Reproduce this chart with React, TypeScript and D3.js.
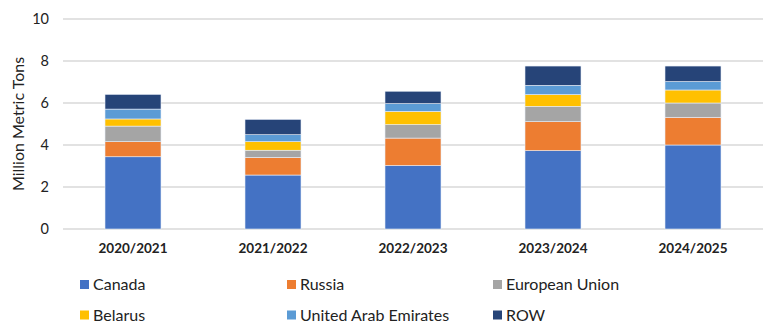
import React from "react";
import * as d3 from "d3";

const categories = ["2020/2021", "2021/2022", "2022/2023", "2023/2024", "2024/2025"];
const seriesNames = ["Canada", "Russia", "European Union", "Belarus", "United Arab Emirates", "ROW"];
const canada = [3.44, 2.57, 3.02, 3.73, 4.0];
const russia = [0.72, 0.84, 1.31, 1.38, 1.32];
const eu = [0.74, 0.34, 0.64, 0.73, 0.68];
const belarus = [0.34, 0.41, 0.63, 0.56, 0.62];
const uae = [0.47, 0.33, 0.37, 0.44, 0.4];
const row = [0.7, 0.73, 0.59, 0.92, 0.74];
const yTicks = [0, 2, 4, 6, 8, 10];
const colors = ["#4472C4", "#ED7D31", "#A5A5A5", "#FFC000", "#5B9BD5", "#264478"];

const W = 776;
const H = 332;
const FONT = "Lato, 'Open Sans', sans-serif";

export default function App() {
  const seriesValues = [canada, russia, eu, belarus, uae, row];
  const table = categories.map((c, i) => {
    const o: any = { cat: c };
    seriesNames.forEach((s, j) => (o[s] = seriesValues[j][i]));
    return o;
  });
  const stack = d3.stack<any>().keys(seriesNames)(table);

  const x = d3.scaleBand().domain(categories).range([63, 763]).paddingInner(0.6).paddingOuter(0.3);
  const y = d3.scaleLinear().domain([0, 10]).range([229, 19]);

  const legendPos = [
    [80, 284.5],
    [287, 284.5],
    [493, 284.5],
    [80, 315],
    [287, 315],
    [493, 315],
  ];

  return (
    <svg width={W} height={H} style={{ position: "absolute", left: 0, top: 0, background: "#fff" }} fontFamily={FONT}>
      {yTicks.map((t) => (
        <g key={t}>
          <line x1={63} x2={763} y1={y(t)} y2={y(t)} stroke="#D9D9D9" strokeWidth={1.3} />
          <text x={49} y={y(t)} dy="0.35em" textAnchor="end" fontSize={14.5} fill="#222">
            {t}
          </text>
        </g>
      ))}
      <text transform={`translate(18,${y(5)}) rotate(-90)`} textAnchor="middle" dy="0.35em" fontSize={16} fill="#222">
        Million Metric Tons
      </text>
      {stack.map((s, j) => (
        <g key={s.key} fill={colors[j]}>
          {s.map((d, i) => (
            <rect
              key={i}
              x={x(categories[i])}
              width={x.bandwidth()}
              y={y(d[1])}
              height={y(d[0]) - y(d[1])}
              stroke="#E8EEF8"
              strokeWidth={0.6}
            />
          ))}
        </g>
      ))}
      {categories.map((c) => (
        <text key={c} x={(x(c) as number) + x.bandwidth() / 2} y={253} textAnchor="middle" fontSize={13.5} fontWeight="bold" fill="#222">
          {c}
        </text>
      ))}
      {seriesNames.map((s, j) => (
        <g key={s} transform={`translate(${legendPos[j][0]},${legendPos[j][1]})`}>
          <rect x={0} y={-4.5} width={9} height={9} fill={colors[j]} />
          <text x={13} y={0} dy="0.35em" fontSize={16} fill="#222">
            {s}
          </text>
        </g>
      ))}
    </svg>
  );
}
